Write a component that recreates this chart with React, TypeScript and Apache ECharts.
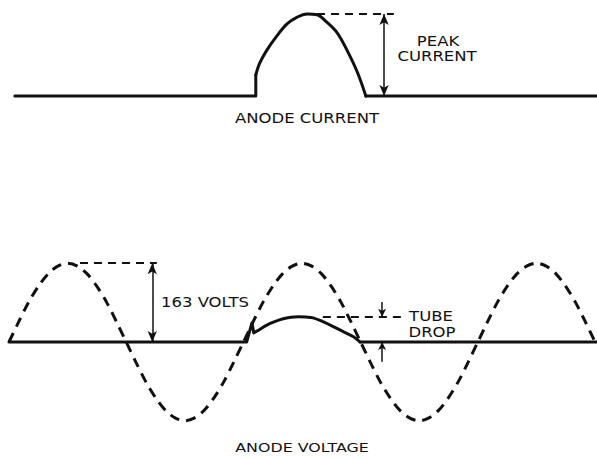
import React, { useEffect, useRef } from "react";
import * as echarts from "echarts";

// ---- Lower trace: anode (supply) voltage, phase in degrees vs volts ----
const voltagePhase = [
  0, 15, 30, 45, 60, 75, 90, 105, 120, 135, 150, 165, 180, 195, 210, 225, 240, 255, 270, 285, 300, 315, 330, 345,
  360, 375, 390, 405, 420, 435, 450, 465, 480, 495, 510, 525, 540, 555, 570, 585, 600, 615, 630, 645, 660, 675, 690, 705,
  720, 735, 750, 765, 780, 795, 810, 825, 840, 855, 870, 885, 900,
];
const anodeVoltage = [
  0, 42, 82, 115, 141, 157, 163, 157, 141, 115, 82, 42, 0, -42, -82, -115, -141, -157, -163, -157, -141, -115, -82, -42,
  0, 42, 82, 115, 141, 157, 163, 157, 141, 115, 82, 42, 0, -42, -82, -115, -141, -157, -163, -157, -141, -115, -82, -42,
  0, 42, 82, 115, 141, 157, 163, 157, 141, 115, 82, 42, 0,
];

// actual anode voltage (tube drop while conducting)
const tubeLeftPhase = [0, 365, 373, 376];
const tubeLeftVolts = [0, 0, 39, 19];
const tubeHumpPhase = [376, 385, 396, 408, 421, 433, 444, 456, 467, 482, 498, 514, 529, 539];
const tubeHumpVolts = [19, 26, 35, 42, 48, 51, 52, 51.5, 50, 42, 32, 21, 11, 0];
const tubeRightPhase = [539, 903];
const tubeRightVolts = [0, 0];

// ---- Upper trace: anode current (percent of peak) ----
const currentLeftPhase = [9, 379, 379];
const currentLeftValue = [0, 0, 25.6];
const currentPulsePhase = [379, 385, 396, 412, 427, 442, 458, 473, 488, 504, 519, 535, 548];
const currentPulseValue = [25.6, 40, 56, 74, 88, 96, 100, 99, 90, 77, 56, 29, 0];
const currentRightPhase = [548, 903];
const currentRightValue = [0, 0];

// ---- Annotation levels ----
const peakCurrent = 100;
const peakVolts = 163;
const tubeDrop = 52;

const labels = {
  anodeCurrent: "ANODE CURRENT",
  anodeVoltage: "ANODE VOLTAGE",
  peak: "PEAK",
  current: "CURRENT",
  volts: "163 VOLTS",
  tube: "TUBE",
  drop: "DROP",
};

const pairs = (xs: number[], ys: number[]) => xs.map((x, i) => [x, ys[i]]);

const INK = "#111";
const FONT = "DejaVu Sans";

export default function App() {
  const ref = useRef<HTMLDivElement>(null);
  useEffect(() => {
    if (!ref.current) return;
    const chart = echarts.init(ref.current, undefined, { renderer: "svg" });

    const solid = (data: number[][], gi: number, smooth: number | boolean = false, extra: any = {}) => ({
      type: "line",
      xAxisIndex: gi,
      yAxisIndex: gi,
      data,
      smooth,
      symbol: "none",
      showSymbol: false,
      clip: false,
      silent: true,
      lineStyle: { color: INK, width: 3, cap: "round", join: "round" },
      ...extra,
    });

    const dashedMark = (a: number[], b: number[]) => [{ coord: a }, { coord: b }];

    const arrowStyle = { color: INK, width: 1.5, type: "solid" };
    const dashStyle = { color: INK, width: 2, type: [8, 6] };

    const text = (t: string, x: number, y: number, size = 13.5) => ({
      type: "text",
      x,
      y,
      scaleX: 1.22,
      silent: true,
      style: {
        text: t,
        fontSize: size,
        fontFamily: FONT,
        fill: INK,
        align: "center",
        verticalAlign: "middle",
        textAlign: "center",
        textVerticalAlign: "middle",
      },
    });

    chart.setOption({
      animation: false,
      backgroundColor: "#fff",
      grid: [
        { left: 9, width: 588, top: 5.8, height: 98.4 },
        { left: 9, width: 588, top: 255, height: 174 },
      ],
      xAxis: [
        { type: "value", gridIndex: 0, min: 0, max: 903, show: false },
        { type: "value", gridIndex: 1, min: 0, max: 903, show: false },
      ],
      yAxis: [
        { type: "value", gridIndex: 0, min: -10, max: 110, show: false },
        { type: "value", gridIndex: 1, min: -180, max: 180, show: false },
      ],
      series: [
        // upper: anode current
        solid(pairs(currentLeftPhase, currentLeftValue), 0),
        solid(pairs(currentPulsePhase, currentPulseValue), 0, 0.35, {
          markLine: {
            silent: true,
            animation: false,
            label: { show: false },
            symbol: ["none", "none"],
            lineStyle: dashStyle,
            data: [dashedMark([473, peakCurrent], [591, peakCurrent])],
          },
        }),
        solid(pairs(currentRightPhase, currentRightValue), 0, false, {
          markLine: {
            silent: true,
            animation: false,
            label: { show: false },
            symbol: ["arrow", "arrow"],
            symbolSize: [7, 11],
            lineStyle: arrowStyle,
            data: [dashedMark([576, 0], [576, peakCurrent])],
          },
        }),
        // lower: supply voltage (dashed sine)
        solid(pairs(voltagePhase, anodeVoltage), 1, 0.3, {
          lineStyle: { color: INK, width: 3, type: [10, 7] },
          markLine: {
            silent: true,
            animation: false,
            label: { show: false },
            symbol: ["none", "none"],
            lineStyle: dashStyle,
            data: [
              dashedMark([109, peakVolts], [227, peakVolts]),
              dashedMark([482, tubeDrop], [605, tubeDrop]),
            ],
          },
        }),
        // lower: actual anode voltage
        solid(pairs(tubeLeftPhase, tubeLeftVolts), 1, false, {
          markLine: {
            silent: true,
            animation: false,
            label: { show: false },
            symbol: ["arrow", "arrow"],
            symbolSize: [7, 11],
            lineStyle: arrowStyle,
            data: [dashedMark([220, 0], [220, peakVolts])],
          },
        }),
        solid(pairs(tubeHumpPhase, tubeHumpVolts), 1, 0.35, {
          markLine: {
            silent: true,
            animation: false,
            label: { show: false },
            symbol: ["none", "arrow"],
            symbolSize: [6, 8],
            lineStyle: arrowStyle,
            data: [
              dashedMark([573, 83], [573, tubeDrop]),
              dashedMark([573, -41], [573, 0]),
            ],
          },
        }),
        solid(pairs(tubeRightPhase, tubeRightVolts), 1),
      ],
      graphic: [
        text(labels.anodeCurrent, 307, 119),
        text(labels.peak, 438, 42),
        text(labels.current, 437, 57),
        text(labels.volts, 205, 303),
        text(labels.tube, 431, 317),
        text(labels.drop, 432, 333),
        text(labels.anodeVoltage, 302, 448, 13),
      ],
    });

    return () => chart.dispose();
  }, []);

  return (
    <div
      ref={ref}
      style={{ position: "absolute", left: 0, top: 0, width: 597, height: 458, background: "#fff" }}
    />
  );
}
